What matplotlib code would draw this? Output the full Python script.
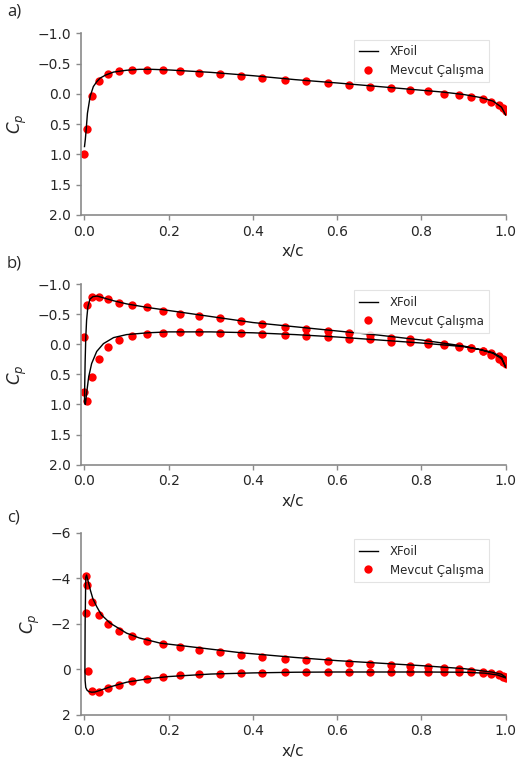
import matplotlib
matplotlib.use("Agg")
import matplotlib.pyplot as plt

# ---------------- data ----------------
x_nodes = [0.0, 0.007, 0.018, 0.034, 0.055, 0.081, 0.112, 0.148, 0.186, 0.227,
           0.273, 0.321, 0.371, 0.422, 0.475, 0.526, 0.578, 0.629, 0.679, 0.727,
           0.773, 0.816, 0.854, 0.890, 0.918, 0.945, 0.966, 0.983, 0.994, 1.0]

# panel a) present study
a_cp = [1.0, 0.58, 0.04, -0.21, -0.32, -0.38, -0.40, -0.40, -0.39, -0.37,
        -0.35, -0.33, -0.30, -0.26, -0.23, -0.21, -0.18, -0.15, -0.12, -0.09,
        -0.07, -0.04, 0.0, 0.02, 0.05, 0.09, 0.13, 0.19, 0.24, 0.28]
# panel a) XFoil
a_xf_x = [0.0, 0.002, 0.004, 0.007, 0.0135, 0.021, 0.029, 0.037, 0.05, 0.069,
          0.1, 0.13, 0.16, 0.2, 0.25, 0.3, 0.4, 0.5, 0.6, 0.7,
          0.8, 0.85, 0.9, 0.94, 0.97, 0.99, 1.0]
a_xf_cp = [0.87, 0.75, 0.59, 0.32, 0.04, -0.12, -0.20, -0.26, -0.31, -0.36,
           -0.39, -0.405, -0.405, -0.395, -0.375, -0.355, -0.30, -0.235, -0.18, -0.12,
           -0.06, -0.03, 0.01, 0.06, 0.12, 0.22, 0.35]

# panel b) present study
b_upper_cp = [-0.12, -0.65, -0.78, -0.78, -0.75, -0.69, -0.65, -0.61, -0.56, -0.51,
              -0.47, -0.43, -0.38, -0.33, -0.29, -0.26, -0.22, -0.18, -0.15, -0.11,
              -0.08, -0.04, -0.01, 0.03, 0.07, 0.11, 0.15, 0.20, 0.25, 0.30]
b_lower_cp = [0.79, 0.95, 0.55, 0.24, 0.05, -0.07, -0.14, -0.17, -0.19, -0.20,
              -0.20, -0.19, -0.18, -0.17, -0.16, -0.14, -0.12, -0.09, -0.08, -0.04,
              -0.03, -0.01, 0.02, 0.04, 0.07, 0.12, 0.18, 0.24, 0.29, 0.33]
# panel b) XFoil (TE upper -> LE -> TE lower)
b_xf_x = [1.0, 0.99, 0.97, 0.94, 0.9, 0.85, 0.8, 0.7, 0.6, 0.5,
          0.4, 0.3, 0.2, 0.15, 0.1, 0.07, 0.05, 0.03, 0.02, 0.013,
          0.008, 0.005, 0.003, 0.0015, 0.0005, 0.0,
          0.002, 0.006, 0.01, 0.017, 0.029, 0.045, 0.069, 0.1, 0.15, 0.2,
          0.3, 0.4, 0.5, 0.6, 0.7, 0.8, 0.85, 0.9, 0.94, 0.97, 0.99, 1.0]
b_xf_cp = [0.38, 0.22, 0.14, 0.09, 0.03, -0.02, -0.07, -0.15, -0.22, -0.29,
           -0.36, -0.46, -0.56, -0.61, -0.67, -0.72, -0.76, -0.80, -0.79, -0.75,
           -0.62, -0.40, -0.10, 0.30, 0.70, 0.95,
           1.0, 0.76, 0.54, 0.32, 0.12, -0.01, -0.11, -0.16, -0.19, -0.205,
           -0.205, -0.19, -0.16, -0.12, -0.07, -0.02, 0.01, 0.04, 0.09, 0.15, 0.24, 0.38]

# panel c) present study
c_upper_x = [0.003, 0.004, 0.007] + x_nodes[2:]
c_upper_cp = [-2.47, -4.12, -3.70, -2.97, -2.38, -2.0, -1.69, -1.47, -1.26, -1.12,
              -0.97, -0.87, -0.76, -0.65, -0.56, -0.47, -0.41, -0.35, -0.29, -0.23,
              -0.19, -0.15, -0.09, -0.04, -0.01, 0.06, 0.12, 0.18, 0.22, 0.28, 0.35]
c_lower_x = [0.009] + x_nodes[2:]
c_lower_cp = [0.09, 0.97, 1.0, 0.84, 0.68, 0.53, 0.43, 0.34, 0.26, 0.21,
              0.19, 0.16, 0.15, 0.13, 0.12, 0.12, 0.12, 0.12, 0.12, 0.12,
              0.12, 0.12, 0.12, 0.13, 0.15, 0.2, 0.24, 0.32, 0.38]
# panel c) XFoil
c_xf_x = [1.0, 0.99, 0.97, 0.94, 0.9, 0.8, 0.7, 0.6, 0.5, 0.37,
          0.28, 0.18, 0.13, 0.10, 0.061, 0.04, 0.029, 0.02, 0.014, 0.009,
          0.005, 0.003, 0.0015, 0.001, 0.0015, 0.003, 0.006, 0.01, 0.017, 0.025,
          0.04, 0.06, 0.1, 0.15, 0.2, 0.3, 0.4, 0.5, 0.6, 0.7,
          0.8, 0.9, 0.95, 0.98, 1.0]
c_xf_cp = [0.35, 0.22, 0.13, 0.06, -0.03, -0.16, -0.27, -0.38, -0.52, -0.73,
           -0.93, -1.15, -1.38, -1.59, -2.03, -2.40, -2.76, -3.10, -3.48, -3.85,
           -4.15, -4.05, -2.0, 0.0, 0.5, 0.8, 0.92, 0.98, 1.01, 1.0,
           0.91, 0.78, 0.57, 0.42, 0.32, 0.21, 0.16, 0.13, 0.12, 0.12,
           0.12, 0.13, 0.17, 0.25, 0.38]

panels = ["a)", "b)", "c)"]
y_ticks_ab = [-1.0, -0.5, 0.0, 0.5, 1.0, 1.5, 2.0]
y_ticks_c = [-6, -4, -2, 0, 2]
x_ticks = [0.0, 0.2, 0.4, 0.6, 0.8, 1.0]
legend_labels = ["XFoil", "Mevcut Çalışma"]

# ---------------- figure ----------------
W, H = 517, 762
fig = plt.figure(figsize=(W / 100, H / 100), dpi=100)

def px_axes(left, right, top, bottom):
    return fig.add_axes([left / W, 1 - bottom / H, (right - left) / W, (bottom - top) / H])

axes = [px_axes(80.7, 505.7, 33.3, 215.0),
        px_axes(80.7, 505.7, 284.0, 464.7),
        px_axes(80.7, 505.7, 533.0, 714.7)]

gray = "#8a8a8a"
red = "#ff0000"

def style(ax, yticks, ylim):
    ax.set_xlim(-0.009, 1.0)
    ax.set_ylim(ylim)
    ax.set_xticks(x_ticks)
    ax.set_yticks(yticks)
    if isinstance(yticks[0], float):
        ax.set_yticklabels([f"{v:.1f}".replace("-", "\u2212") for v in yticks])
    ax.set_xticklabels([f"{v:.1f}" for v in x_ticks])
    for s in ["top", "right"]:
        ax.spines[s].set_visible(False)
    for s in ["left", "bottom"]:
        ax.spines[s].set_color(gray)
        ax.spines[s].set_linewidth(1.2)
    ax.tick_params(colors=gray, labelcolor="#262626", labelsize=10, length=3.5, width=1)
    ax.set_xlabel("x/c", fontsize=11, color="#262626", labelpad=4)
    ax.set_ylabel("$C_p$", fontsize=12, color="#262626", labelpad=6)

mk = dict(linestyle="none", marker="o", markersize=6.0, color=red,
          markeredgewidth=0, zorder=2)
ln = dict(color="black", linewidth=1.0, zorder=3)

# a
ax = axes[0]
ax.plot(a_xf_x, a_xf_cp, label=legend_labels[0], **ln)
ax.plot(x_nodes, a_cp, label=legend_labels[1], **mk)
style(ax, y_ticks_ab, (2.0, -1.0))

# b
ax = axes[1]
ax.plot(b_xf_x, b_xf_cp, label=legend_labels[0], **ln)
ax.plot(x_nodes, b_upper_cp, label=legend_labels[1], **mk)
ax.plot(x_nodes, b_lower_cp, **mk)
style(ax, y_ticks_ab, (2.0, -1.0))

# c
ax = axes[2]
ax.plot(c_xf_x, c_xf_cp, label=legend_labels[0], **ln)
ax.plot(c_upper_x, c_upper_cp, label=legend_labels[1], **mk)
ax.plot(c_lower_x, c_lower_cp, **mk)
style(ax, y_ticks_c, (2, -6))
ax.set_yticklabels([str(v).replace("-", "\u2212") for v in y_ticks_c])

for ax in axes:
    leg = ax.legend(loc="upper right", bbox_to_anchor=(0.96, 0.965), borderaxespad=0,
                    fontsize=8.5, frameon=True, fancybox=False, handlelength=1.6,
                    handletextpad=1.0, borderpad=0.45, labelspacing=0.5)
    leg.get_frame().set_edgecolor("#dcdcdc")
    leg.get_frame().set_linewidth(0.8)
    for t in leg.get_texts():
        t.set_color("#262626")

label_y = [11, 263, 517]
for lab, yy in zip(panels, label_y):
    fig.text(7 / W, 1 - yy / H, lab, fontsize=12, va="center", ha="left",
             family=["Open Sans", "DejaVu Sans"], color="#262626")

fig.savefig("out.png", dpi=100)
